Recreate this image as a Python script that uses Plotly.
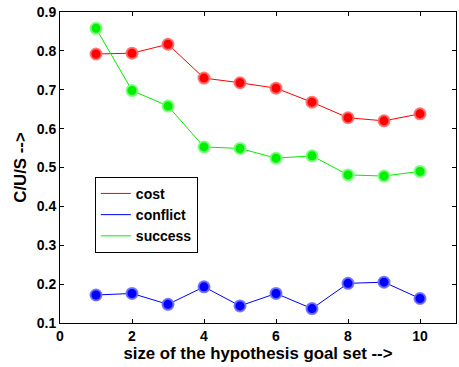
import plotly.graph_objects as go

# Hypothesis goal set sizes
goal_set_size = [1, 2, 3, 4, 5, 6, 7, 8, 9, 10]

# Measured ratios per goal set size
cost = [0.792, 0.794, 0.817, 0.730, 0.718, 0.704, 0.668, 0.628, 0.620, 0.638]
conflict = [0.172, 0.176, 0.148, 0.193, 0.144, 0.176, 0.137, 0.202, 0.205, 0.163]
success = [0.858, 0.698, 0.658, 0.553, 0.549, 0.524, 0.530, 0.481, 0.478, 0.490]

series_names = ["cost", "conflict", "success"]
series_values = [cost, conflict, success]
line_colors = ["#ff0000", "#0000ff", "#00ee00"]
halo_colors = ["rgba(255,110,110,0.9)", "rgba(110,110,255,0.9)", "rgba(120,255,120,0.9)"]

x_ticks = [0, 2, 4, 6, 8, 10]
y_ticks = [0.1, 0.2, 0.3, 0.4, 0.5, 0.6, 0.7, 0.8, 0.9]

FONT = "Liberation Sans, Arial, sans-serif"

fig = go.Figure()

for name, vals, lc, hc in zip(series_names, series_values, line_colors, halo_colors):
    fig.add_trace(go.Scatter(
        x=goal_set_size, y=vals, mode="lines+markers", name=name,
        line=dict(color=lc, width=1),
        marker=dict(symbol="circle", size=11, color=lc, line=dict(color=hc, width=2)),
        showlegend=False,
    ))

# Legend entries show the line style only
for name, lc in zip(series_names, line_colors):
    fig.add_trace(go.Scatter(
        x=[None], y=[None], mode="lines", name=name,
        line=dict(color=lc, width=1), showlegend=True,
    ))

axis_common = dict(
    showline=True, linecolor="black", linewidth=1, mirror="ticks",
    ticks="inside", ticklen=4, tickcolor="black", showgrid=False, zeroline=False,
    tickfont=dict(family=FONT, size=14, color="black", weight="bold"),
)

fig.update_layout(
    width=459, height=367,
    margin=dict(l=60, r=3, t=12, b=44),
    paper_bgcolor="white", plot_bgcolor="white",
    xaxis=dict(range=[0, 11], tickvals=x_ticks, **axis_common,
               title=dict(text="size of the hypothesis goal set -->", standoff=4,
                          font=dict(family=FONT, size=16.8, color="black", weight="bold"))),
    yaxis=dict(range=[0.1, 0.9], tickvals=y_ticks, tickformat=".1f", **axis_common,
               title=dict(text="C/U/S -->", standoff=5,
                          font=dict(family=FONT, size=16.8, color="black", weight="bold"))),
    legend=dict(x=0.088, y=0.47, xanchor="left", yanchor="top",
                bgcolor="white", bordercolor="black", borderwidth=1,
                font=dict(family=FONT, size=14, color="black", weight="bold"),
                itemwidth=30, tracegroupgap=0),
    showlegend=True,
)

fig.write_html("out.html")
